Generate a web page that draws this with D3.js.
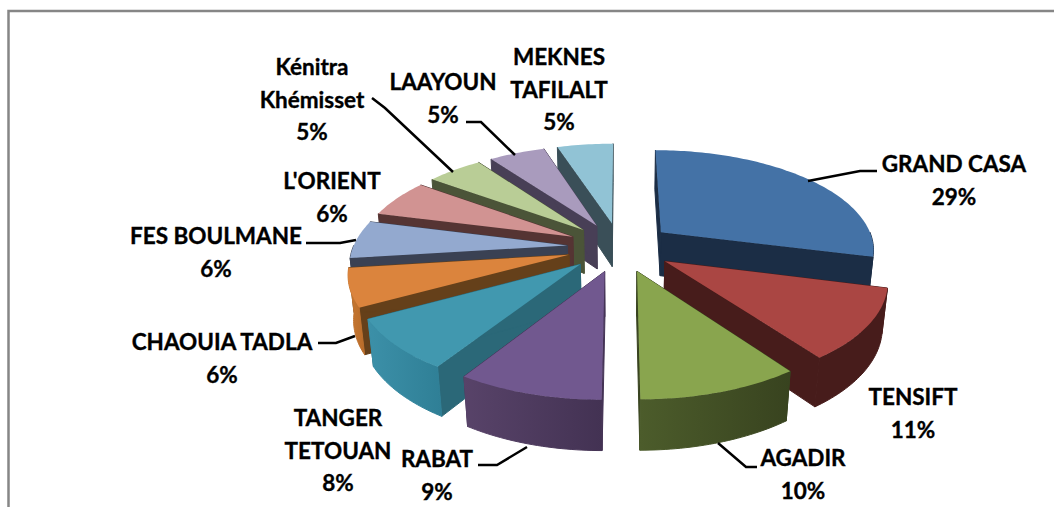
<!DOCTYPE html>
<html>
<head>
<meta charset="utf-8">
<script src="https://cdn.jsdelivr.net/npm/d3@7"></script>
<style>
  body { margin: 0; background: #fff; }
  text { font-family: Lato, sans-serif; font-weight: 700; font-size: 22.5px; fill: #000; stroke: #000; stroke-width: 0.35px; }
</style>
</head>
<body>
<div id="chart"></div>
<script>
// 3D exploded pie, region shares

// ==========================================================
// Data
var regions = ["GRAND CASA", "TENSIFT", "AGADIR", "RABAT", "TANGER TETOUAN", "CHAOUIA TADLA",
    "FES BOULMANE", "L'ORIENT", "Kénitra Khémisset", "LAAYOUN", "MEKNES TAFILALT"];
var shares = [29, 11, 10, 9, 8, 6, 6, 6, 5, 5, 5];

// colours per region
var topColors = ["#4472a6", "#aa4643", "#89a54e", "#71588f", "#4198af", "#db843d", "#93a9cf", "#d19392", "#b9cd96", "#a99bbd", "#91c3d5"];
var faceColors = ["#1b2d45", "#471c1b", "#38431f", "#443355", "#2b6878", "#65401a", "#3a4153", "#553433", "#4b5438", "#483f56", "#3a4f58"];
var rimLeft = ["#1b2d45", "#471c1b", "#4c5c2b", "#584369", "#3c90a8", "#c87832", "#3a4153", "#553433", "#4b5438", "#483f56", "#3a4f58"];
var rimRight = ["#1b2d45", "#471c1b", "#38431f", "#433253", "#2f7f96", "#b86c2a", "#3a4153", "#553433", "#4b5438", "#483f56", "#3a4f58"];

// label layout: one row per region
var labelLines = [["GRAND CASA"], ["TENSIFT"], ["AGADIR"], ["RABAT"], ["TANGER", "TETOUAN"], ["CHAOUIA TADLA"],
    ["FES BOULMANE"], ["L'ORIENT"], ["Kénitra", "Khémisset"], ["LAAYOUN"], ["MEKNES", "TAFILALT"]];
var labelX = [954, 913, 803, 437, 338, 222, 216, 332, 312, 443, 559];
var labelY = [172, 405, 466, 467, 426, 350, 244, 189, 75, 90, 65];
var lineStep = 32.5;

// leader lines: [x, y] pairs in order, null where the label has none
var leaders = [
    [[808, 181], [860, 171], [877, 171]],
    null,
    [[718, 443], [746, 467], [757, 467]],
    [[527, 447], [497, 465], [478, 465]],
    null,
    [[355, 336], [336, 343], [318, 343]],
    [[356, 240], [340, 243], [306, 243]],
    null,
    [[453, 172], [385, 108], [372, 98]],
    [[515, 155], [481, 122], [466, 122]],
    null
];

// ==========================================================
// Set up
var svgWidth = 1054;
var svgHeight = 507;

var svg = d3.select("#chart")
    .append("svg")
    .attr("width", svgWidth)
    .attr("height", svgHeight)
    .style("display", "block");

// frame, only top and left are in the crop
svg.append("path")
    .attr("d", `M8.5,${svgHeight} V11 H${svgWidth}`)
    .attr("fill", "none")
    .attr("stroke", "#868686")
    .attr("stroke-width", 2.5);

// ==========================================================
// Projection of the tilted pie
var cx = 620, cy = 247;
var radius = 214, explode = 53, depth = 45;
var tilt = 0.464;      // squash of the ground plane
var persp = 0.000736;  // growth toward the viewer
var perspH = 0.00044;  // shrink with depth

function project(u, v, h) {
    var den = 1 - persp * v + perspH * h;
    return [cx + u / den, cy + (tilt * v + h) / den];
}

var pie = d3.pie().sort(null).startAngle(0).endAngle(2 * Math.PI);
var slices = pie(shares);
var line = d3.line();

// apex offset of a slice, angle measured clockwise from the top
function apexOf(d) {
    var mid = (d.startAngle + d.endAngle) / 2;
    return [explode * Math.sin(mid), -explode * Math.cos(mid)];
}

function rimPoints(d, from, to, h) {
    var apex = apexOf(d);
    var n = Math.max(2, Math.ceil((to - from) / 0.02));
    return d3.range(n + 1).map(function(i) {
        var a = from + (to - from) * i / n;
        return project(apex[0] + radius * Math.sin(a), apex[1] - radius * Math.cos(a), h);
    });
}

function edgeFace(d, angle) {
    var apex = apexOf(d);
    var ou = apex[0] + radius * Math.sin(angle), ov = apex[1] - radius * Math.cos(angle);
    return [project(apex[0], apex[1], 0), project(ou, ov, 0), project(ou, ov, depth), project(apex[0], apex[1], depth)];
}

// ==========================================================
// Gradients for the outer rims
var defs = svg.append("defs");
regions.forEach(function(r, i) {
    var g = defs.append("linearGradient").attr("id", "rim" + i);
    g.append("stop").attr("offset", "0%").attr("stop-color", rimLeft[i]);
    g.append("stop").attr("offset", "100%").attr("stop-color", rimRight[i]);
});

// ==========================================================
// Draw back to front
var order = slices.map(function(d, i) { return i; })
    .sort(function(a, b) { return apexOf(slices[a])[1] - apexOf(slices[b])[1]; });

var pieGroup = svg.append("g");

var sliceGroups = pieGroup.selectAll("g")
    .data(order)
    .enter()
    .append("g");

sliceGroups.each(function(i) {
    var d = slices[i];
    var g = d3.select(this);
    var top = rimPoints(d, d.startAngle, d.endAngle, 0);
    var apex = apexOf(d);

    [d.startAngle, d.endAngle].forEach(function(a) {
        g.append("path")
            .attr("d", line(edgeFace(d, a)) + "Z")
            .attr("fill", faceColors[i])
            .attr("stroke", faceColors[i])
            .attr("stroke-width", 1);
    });

    // only the front half of the rim faces the viewer
    var from = Math.max(d.startAngle, Math.PI / 2);
    var to = Math.min(d.endAngle, 3 * Math.PI / 2);
    if (to > from) {
        var rimTop = rimPoints(d, from, to, 0);
        var rimBottom = rimPoints(d, from, to, depth);
        g.append("path")
            .attr("d", line(rimTop.concat(rimBottom.reverse())) + "Z")
            .attr("fill", `url(#rim${i})`)
            .attr("stroke", `url(#rim${i})`)
            .attr("stroke-width", 1);
    }

    g.append("path")
        .attr("d", line([project(apex[0], apex[1], 0)].concat(top)) + "Z")
        .attr("fill", topColors[i]);
});

// ==========================================================
// Leaders and labels
svg.append("g").selectAll("path")
    .data(leaders.filter(function(l) { return l; }))
    .enter()
    .append("path")
    .attr("d", line)
    .attr("fill", "none")
    .attr("stroke", "#000")
    .attr("stroke-width", 2.5);

var labels = svg.append("g").selectAll("text")
    .data(regions)
    .enter()
    .append("text")
    .attr("text-anchor", "middle")
    .attr("x", function(d, i) { return labelX[i]; })
    .attr("y", function(d, i) { return labelY[i]; });

labels.each(function(d, i) {
    var t = d3.select(this);
    labelLines[i].concat(shares[i] + "%").forEach(function(s, j) {
        t.append("tspan")
            .attr("x", labelX[i])
            .attr("y", labelY[i] + j * lineStep)
            .text(s);
    });
});
</script>
</body>
</html>
